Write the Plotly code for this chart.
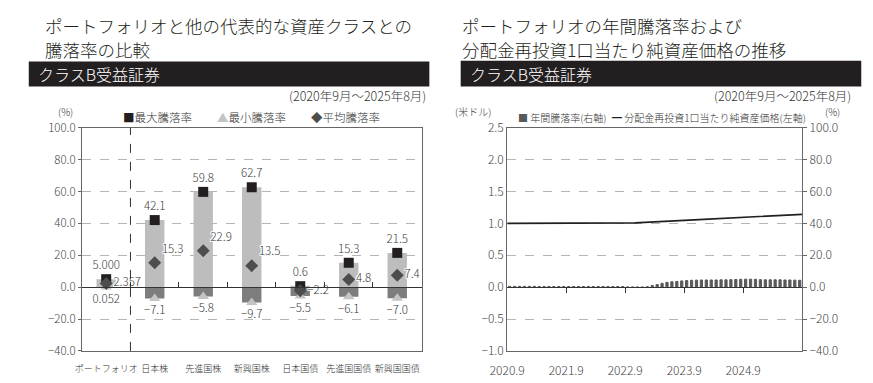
import plotly.graph_objects as go

W, H = 873, 383
FONT = "Noto Sans CJK JP"

# ---------------- Left chart data ----------------
categories = ["ポートフォリオ", "日本株", "先進国株", "新興国株", "日本国債", "先進国国債", "新興国国債"]
max_v = [5.000, 42.1, 59.8, 62.7, 0.6, 15.3, 21.5]
min_v = [0.052, -7.1, -5.8, -9.7, -5.5, -6.1, -7.0]
avg_v = [2.357, 15.3, 22.9, 13.5, -2.2, 4.8, 7.4]
avg_pos = ["middle right", "top right", "top right", "top right", "middle right", "middle right", "middle right"]

# ---------------- Right chart data ----------------
x_ticktext = ["2020.9", "2021.9", "2022.9", "2023.9", "2024.9"]
# rolling 1-year return (%) per month 2020.9 - 2025.8
ann_ret = [0.5, 0.5, 0.5, 0.5, 0.5, 0.5, 0.4, 0.4, 0.4, 0.4, 0.4, 0.4,
           0.4, 0.4, 0.4, 0.4, 0.4, 0.4, 0.4, 0.4, 0.4, 0.4, 0.4, 0.4,
           0.1, 0.08, 0.06, 0.052, 0.2, 1.0, 1.6, 2.4, 3.0, 3.4, 3.6, 3.9,
           4.1, 4.3, 4.4, 4.5, 4.5, 4.5, 4.5, 4.6, 4.6, 4.7, 4.8, 4.9,
           5.0, 5.0, 4.9, 4.7, 4.6, 4.6, 4.6, 4.6, 4.5, 4.5, 4.4, 4.3]
# NAV per unit (USD), month ends from 2020.8 to 2025.8
nav = [1.000, 1.000, 1.000, 1.000, 1.000, 1.000, 1.000, 1.000, 1.000, 1.000,
       1.000, 1.000, 1.000, 1.000, 1.000, 1.000, 1.000, 1.000, 1.000, 1.000,
       1.000, 1.001, 1.001, 1.002, 1.004, 1.006, 1.009, 1.012, 1.015, 1.019,
       1.023, 1.027, 1.031, 1.035, 1.039, 1.043, 1.047, 1.051, 1.055, 1.059,
       1.063, 1.067, 1.071, 1.075, 1.079, 1.083, 1.087, 1.091, 1.095, 1.099,
       1.103, 1.107, 1.111, 1.114, 1.118, 1.122, 1.126, 1.130, 1.134, 1.138,
       1.142]


def fx(p):
    return p / W


def fy(p):
    return 1 - p / H


HALO = "1px 1px 0 #fff, -1px -1px 0 #fff, 1px -1px 0 #fff, -1px 1px 0 #fff, 0 1px 0 #fff, 0 -1px 0 #fff, 1px 0 0 #fff, -1px 0 0 #fff"


def fmt(v, i):
    s = f"{v:.3f}" if i == 0 else f"{v:.1f}"
    return s.replace("-", "\u2212")


fig = go.Figure()

# left chart bars (range min..max, split at zero)
pos_base = [max(m, 0) for m in min_v]
pos_len = [max(M, 0) - b for M, b in zip(max_v, pos_base)]
neg_len = [(min(M, 0) - m) if m < 0 else 0 for M, m in zip(max_v, min_v)]
fig.add_bar(x=categories, y=pos_len, base=pos_base, width=0.4, marker_color="#bdbdbd",
            marker_line_width=0, xaxis="x", yaxis="y", hoverinfo="skip")
fig.add_bar(x=categories, y=neg_len, base=min_v, width=0.4, marker_color="#7d7d7d",
            marker_line_width=0, xaxis="x", yaxis="y", hoverinfo="skip")

tf = dict(size=11.5, color="#3a3a3a", family=FONT, shadow=HALO, weight=300)
fig.add_scatter(x=categories, y=max_v, mode="markers+text",
                marker=dict(symbol="square", size=10, color="#231f20"),
                text=[fmt(v, i) for i, v in enumerate(max_v)], textposition="top center",
                textfont=tf, cliponaxis=False, xaxis="x", yaxis="y")
fig.add_scatter(x=categories, y=min_v, mode="markers+text",
                marker=dict(symbol="triangle-up", size=10, color="#c4c4c4"),
                text=[fmt(v, i) for i, v in enumerate(min_v)], textposition="bottom center",
                textfont=tf, cliponaxis=False, xaxis="x", yaxis="y")
fig.add_scatter(x=categories, y=avg_v, mode="markers+text",
                marker=dict(symbol="diamond", size=10, color="#4d4d4d"),
                text=[fmt(v, i) for i, v in enumerate(avg_v)], textposition=avg_pos,
                textfont=tf, cliponaxis=False, xaxis="x", yaxis="y")
# dummy for zero-line axis
fig.add_scatter(x=[], y=[], xaxis="x3", yaxis="y", hoverinfo="skip")

# right chart
fig.add_bar(x=[i + 0.5 for i in range(len(ann_ret))], y=ann_ret, width=0.45,
            marker=dict(color="#595959", line=dict(color="#595959", width=1)),
            xaxis="x2", yaxis="y3", hoverinfo="skip")
fig.add_scatter(x=list(range(len(nav))), y=nav, mode="lines",
                line=dict(color="#231f20", width=1.6), xaxis="x2", yaxis="y2")
fig.add_scatter(x=[], y=[], xaxis="x4", yaxis="y2", hoverinfo="skip")

ydom = [fy(356.7), fy(123.3)]
zero_pos = ydom[0] + (40 / 140) * (ydom[1] - ydom[0])

axis_common = dict(showline=True, linecolor="#666", linewidth=1, zeroline=False)
TICKC = "#444"

fig.update_layout(
    width=W, height=H, margin=dict(l=0, r=0, t=0, b=0),
    paper_bgcolor="white", plot_bgcolor="white", showlegend=False,
    barmode="overlay", font=dict(family=FONT, color="#333", weight=300),
    xaxis=dict(domain=[fx(65.3), fx(412)], anchor="y", type="category", range=[-0.5, 6.5],
               mirror=True, ticks="", showgrid=False, ticklabelstandoff=9,
               tickfont=dict(size=9, color="#333", weight=300), **axis_common),
    yaxis=dict(domain=ydom, anchor="x", range=[-40, 100], dtick=20, tickformat=".1f",
               mirror=True, showgrid=True, gridcolor="#b5b5b5", griddash="dash", gridwidth=1,
               ticks="outside", ticklen=3, tickcolor="#666",
               tickfont=dict(size=11.5, color=TICKC, weight=300), **axis_common),
    xaxis3=dict(overlaying="x", anchor="free", position=zero_pos, range=[-0.5, 6.5],
                tickvals=[0.5, 1.5, 2.5, 3.5, 4.5, 5.5], ticks="inside", ticklen=5,
                tickcolor="#333", showline=True, linecolor="#333", linewidth=1.2,
                showticklabels=False, showgrid=False, zeroline=False),
    xaxis2=dict(domain=[fx(499.5), fx(800.7)], anchor="y2", range=[0, 60],
                tickvals=[0, 12, 24, 36, 48], ticktext=x_ticktext, ticks="", mirror=True,
                showgrid=False, ticklabelstandoff=9,
                tickfont=dict(size=12, color=TICKC, weight=300), **axis_common),
    yaxis2=dict(domain=ydom, anchor="x2", range=[-1, 2.5], dtick=0.5, tickformat=".1f",
                mirror=True, showgrid=True, gridcolor="#b5b5b5", griddash="dash", ticks="",
                tickfont=dict(size=12, color=TICKC, weight=300), **axis_common),
    yaxis3=dict(overlaying="y2", side="right", anchor="x2", range=[-40, 100], dtick=20,
                tickformat=".1f", showgrid=False, zeroline=False, showline=False,
                ticks="outside", ticklen=4, tickcolor="#666",
                tickfont=dict(size=12, color=TICKC, weight=300)),
    xaxis4=dict(overlaying="x2", anchor="free", position=zero_pos, range=[0, 60],
                tickvals=[12, 24, 36, 48], ticks="outside", ticklen=5, tickcolor="#333",
                showline=True, linecolor="#333", linewidth=1.2, showticklabels=False,
                showgrid=False, zeroline=False),
)

shapes = [
    dict(type="rect", xref="paper", yref="paper", x0=fx(11), x1=fx(420), y0=fy(80), y1=fy(54),
         fillcolor="#231f20", line=dict(width=0), layer="below"),
    dict(type="rect", xref="paper", yref="paper", x0=fx(452), x1=fx(861), y0=fy(80), y1=fy(53),
         fillcolor="#231f20", line=dict(width=0), layer="below"),
    dict(type="line", xref="x", yref="y domain", x0=0.5, x1=0.5, y0=0, y1=1,
         line=dict(color="#333", width=1, dash="dash")),
]
fig.update_layout(shapes=shapes)


def ann(text, x, y, size, xanchor="left", color="#231f20", weight=300, yanchor="middle"):
    return dict(text=text, x=fx(x), y=fy(y), xref="paper", yref="paper", showarrow=False,
                xanchor=xanchor, yanchor=yanchor, align="left", borderpad=0,
                font=dict(size=size, color=color, family=FONT, weight=weight))


annotations = [
    ann("ポートフォリオと他の代表的な資産クラスとの", 27, 16, 17.5),
    ann("騰落率の比較", 27, 41, 17.5),
    ann("ポートフォリオの年間騰落率および", 452, 16, 17.5),
    ann("分配金再投資1口当たり純資産価格の推移", 452, 41, 17.5),
    ann("クラスB受益証券", 19, 67, 16, color="white"),
    ann("クラスB受益証券", 461, 67, 16, color="white"),
    ann("(2020年9月～2025年8月)", 418, 89, 12.5, xanchor="right", color="#333"),
    ann("(2020年9月～2025年8月)", 852, 89, 12.5, xanchor="right", color="#333"),
    ann("(%)", 48, 106, 10, xanchor="center", color="#333"),
    ann("<span style='color:#231f20'>■</span>最大騰落率", 106, 112, 11.5, color="#333"),
    ann("<span style='color:#c4c4c4'>▲</span>最小騰落率", 202, 112, 11.5, color="#333"),
    ann("<span style='color:#4d4d4d'>◆</span>平均騰落率", 298, 112, 11.5, color="#333"),
    ann("(米ドル)", 465, 106, 10, xanchor="center", color="#333"),
    ann("<span style='color:#595959'>■</span> 年間騰落率(右軸)", 510, 112, 10, color="#333"),
    ann("<span style='color:#231f20'>━</span> 分配金再投資1口当たり純資産価格(左軸)", 605, 112, 10, color="#333"),
    ann("(%)", 832, 106, 10, xanchor="center", color="#333"),
]
fig.update_layout(annotations=annotations)

fig.write_html("out.html", config={"displayModeBar": False},
               post_script="document.body.style.margin='0';document.body.style.padding='0';")
